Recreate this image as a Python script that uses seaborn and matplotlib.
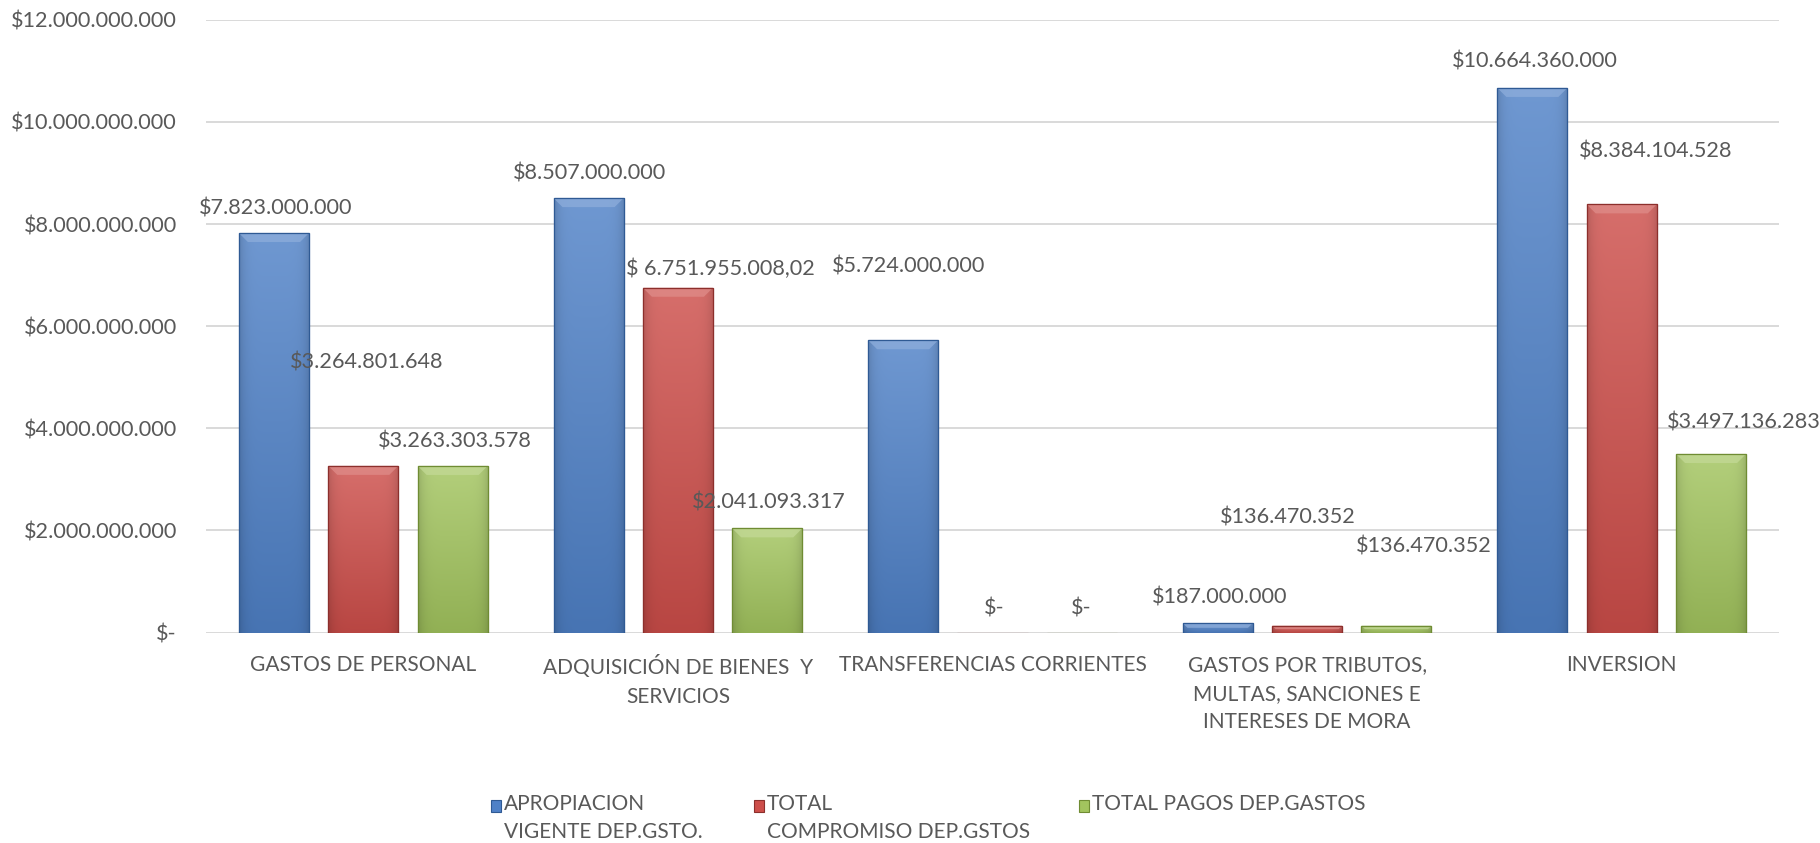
import numpy as np
import pandas as pd
import matplotlib
matplotlib.use("Agg")
import matplotlib.pyplot as plt
import seaborn as sns
from matplotlib.colors import to_rgb
from matplotlib.patches import Polygon, Rectangle
from matplotlib.ticker import FuncFormatter

categorias = ["GASTOS DE PERSONAL",
              "ADQUISICIÓN DE BIENES  Y\nSERVICIOS",
              "TRANSFERENCIAS CORRIENTES",
              "GASTOS POR TRIBUTOS,\nMULTAS, SANCIONES E\nINTERESES DE MORA",
              "INVERSION"]
series = ["APROPIACION\nVIGENTE DEP.GSTO.",
          "TOTAL\nCOMPROMISO DEP.GSTOS",
          "TOTAL PAGOS DEP.GASTOS"]
apropiacion = [7823000000, 8507000000, 5724000000, 187000000, 10664360000]
compromiso = [3264801648, 6751955008.02, 0, 136470352, 8384104528]
pagos = [3263303578, 2041093317, 0, 136470352, 3497136283]
y_ticks = [0, 2e9, 4e9, 6e9, 8e9, 10e9, 12e9]

# label offsets (pixels) from top centre of each bar, hand-moved in the original
label_dx = [[2, 1, 5, 2, 3], [3, 43, 2, -19, 34], [2, 2, -1, 27, 33]]
label_dy = [[25, 25, 74, 26, 26], [103, 19, 24, 108, 53], [24, 26, 24, 79, 31]]

colores = ["#4f81c7", "#cd4e4a", "#a2c45e"]
bordes = ["#2f5a94", "#8c2f2c", "#6f8c33"]
gris = "#595959"

W, H = 1820, 843

sns.set_style("white")
plt.rcParams["font.family"] = ["Lato", "DejaVu Sans"]
plt.rcParams["font.size"] = 15


def fmt_money(v):
    if v == 0:
        return "$-"
    if v != int(v):
        ent = f"{int(v):,}".replace(",", ".")
        dec = f"{v - int(v):.2f}"[2:]
        return f"$ {ent},{dec}"
    return "$" + f"{int(v):,}".replace(",", ".")


def shade(c, f):
    c = np.array(to_rgb(c))
    return c + (1 - c) * f if f > 0 else c * (1 + f)


df = pd.DataFrame({
    "categoria": categorias * 3,
    "serie": [s for s in series for _ in categorias],
    "valor": apropiacion + compromiso + pagos,
})
valores = [apropiacion, compromiso, pagos]

fig = plt.figure(figsize=(W / 100, H / 100), dpi=100)
ax = fig.add_axes([206 / W, 1 - 632.6 / H, (1779 - 206) / W, (632.6 - 19.7) / H])

sns.barplot(data=df, x="categoria", y="valor", hue="serie", hue_order=series,
            order=categorias, palette=colores, width=0.852, gap=0.216,
            legend=False, ax=ax, zorder=3)

ax.set_xlim(-0.5, 4.5)
ax.set_ylim(0, 12e9)
ax.set_yticks(y_ticks)
ax.yaxis.set_major_formatter(FuncFormatter(lambda v, p: fmt_money(v)))
ax.grid(axis="y", color="#d9d9d9", linewidth=1.4, zorder=0)
ax.set_axisbelow(True)
for s in ax.spines.values():
    s.set_visible(False)
ax.tick_params(axis="y", length=0, pad=21, colors=gris, labelsize=15.6)
ax.tick_params(axis="x", length=0, pad=16, colors=gris, labelsize=15)
for t in ax.get_xticklabels():
    t.set_linespacing(1.55)
ax.set_xlabel("")
ax.set_ylabel("")

bb = ax.get_window_extent()
px_y = bb.height / 12e9
px_x = bb.width / 5.0
bev = 9

# gradient + bevel on every bar
for i, cont in enumerate(ax.containers):
    base = colores[i]
    nrow, ncol = 80, 24
    v = np.linspace(0, 1, nrow)[:, None]
    u = np.linspace(-1, 1, ncol)[None, :]
    bot = shade(base, -0.1)
    top = shade(base, 0.18)
    img = bot[None, None, :] * (1 - v[..., None]) + top[None, None, :] * v[..., None]
    img = img * (1 - 0.12 * np.abs(u[..., None]) ** 6)
    img = np.clip(img, 0, 1)
    for j, bar in enumerate(cont):
        x0, w, h = bar.get_x(), bar.get_width(), bar.get_height()
        bar.set_edgecolor(bordes[i])
        bar.set_linewidth(0.8)
        if h > 0:
            im = ax.imshow(img, extent=[x0, x0 + w, 0, h], origin="lower",
                           aspect="auto", zorder=3.1, interpolation="bilinear")
            im.set_clip_path(bar)
            by = min(bev / px_y, h / 2)
            bx = min(bev / px_x, by * px_y / px_x)
            poly = Polygon([(x0, h), (x0 + w, h), (x0 + w - bx, h - by), (x0 + bx, h - by)],
                           closed=True, facecolor=shade(base, 0.35), edgecolor="none",
                           alpha=0.75, zorder=3.2)
            ax.add_patch(poly)
            ax.plot([x0, x0, x0 + w, x0 + w], [0, h, h, 0], color=bordes[i],
                    lw=0.9, zorder=3.3, solid_joinstyle="miter")
        ax.annotate(fmt_money(valores[i][j]),
                    xy=(x0 + w / 2, h), xytext=(label_dx[i][j], label_dy[i][j]),
                    textcoords="offset pixels", ha="center", va="center",
                    color=gris, fontsize=15.6, zorder=5, annotation_clip=False)

ax.set_xlim(-0.5, 4.5)
ax.set_ylim(0, 12e9)

# legend
leg_x = [491, 754, 1079]
for i, lab in enumerate(series):
    fig.add_artist(Rectangle((leg_x[i] / W, 1 - 812 / H), 10 / W, 12 / H,
                             transform=fig.transFigure, facecolor=colores[i],
                             edgecolor=bordes[i], linewidth=0.8))
    fig.text((leg_x[i] + 13) / W, 1 - 794 / H, lab, ha="left", va="top",
             color=gris, fontsize=15, linespacing=1.5)

fig.savefig("out.png", dpi=100)
